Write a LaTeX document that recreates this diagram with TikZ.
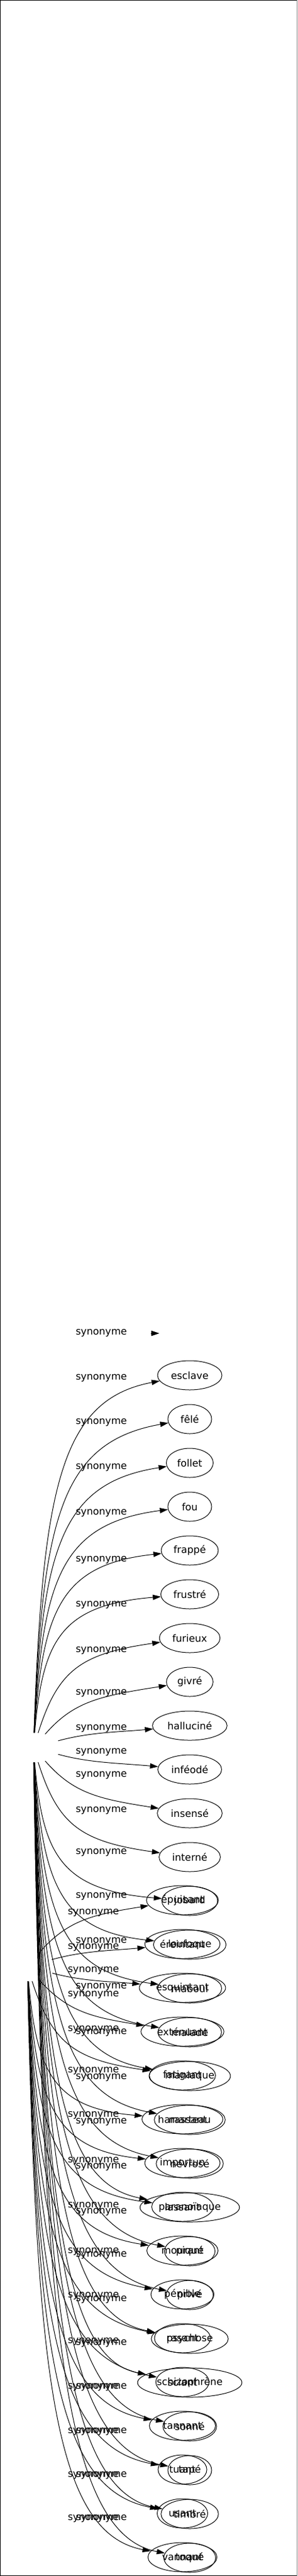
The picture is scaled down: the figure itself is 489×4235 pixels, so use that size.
\documentclass[tikz,border=0pt]{standalone}
\usepackage{fontspec}
\setmainfont{DejaVu Sans}
\usetikzlibrary{arrows.meta,shapes.geometric}

\tikzset{
	syn/.style={ellipse,draw,minimum width=54pt,minimum height=36pt,inner xsep=5pt,inner ysep=3pt},
	hub/.style={ellipse,minimum width=67.5pt,minimum height=36pt},
	lab/.style={anchor=west,inner sep=0pt}
}

\begin{document}
\begin{tikzpicture}[x=0.75pt,y=-0.75pt,>={Triangle[length=10pt,width=6.5pt]},line width=0.75pt,font=\fontsize{12.2}{14}\selectfont]
	\useasboundingbox (0,0) rectangle (489,4235);
	\draw (488.5,0.5) -- (0.5,0.5) -- (0.5,4234.5) -- (488.5,4234.5);
	\draw[gray] (488.5,0.5) -- (488.5,4234.5);

	% first graph
	\node[hub] (h_a) at (55,2873) {};
	\coordinate (a_0) at (262,2192);
	\coordinate (a_0t) at (248,2192);
	\node[lab] (la_0) at (124,2192) {synonyme};
	\draw[->] (a_0t) -- (a_0);
	\foreach \i/\w/\ly in {1/esclave/2266,2/fêlé/2339,3/follet/2413,4/fou/2488,5/frappé/2565,6/frustré/2639,7/furieux/2714,8/givré/2784,9/halluciné/2842,10/inféodé/2881,11/insensé/2919,12/interné/2977,13/jobard/3046,14/loufoque/3118,15/maboul/3192,16/malade/3267,17/maniaque/3342,18/marteau/3416,19/névrosé/3489,20/paranoïaque/3563,21/piqué/3637,22/privé/3708,23/psychose/3781,24/schizophrène/3853,25/sonné/3925,26/tapé/3998,27/timbré/4070,28/toqué/4141}{
		\pgfmathsetmacro\ty{2189+72*\i}
		\pgfmathsetmacro\D{2873-\ty}
		\pgfmathsetmacro\f{min(1,abs(\D)/250)}
		\pgfmathsetmacro\pax{55+15+(1-\f)*90}
		\pgfmathsetmacro\pay{2873-0.7*\D}
		\pgfmathsetmacro\pbx{55+45+(1-\f)*110}
		\pgfmathsetmacro\pby{\ty+(1-\f)*0.33*\D+\f*sign(\D)*min(0.07*abs(\D),40)}
		\node[syn] (a_\i) at (312,\ty) {\w};
		\node[lab] (la_\i) at (124,\ly) {synonyme};
		\draw[->] (h_a) .. controls (\pax,\pay) and (\pbx,\pby) .. (a_\i);
	}

	% second graph
	\node[hub] (h_b) at (45,3233) {};
	\foreach \j/\w/\ly in {0/épuisant/3145,1/éreintant/3202,2/esquintant/3240,3/exténuant/3280,4/fatigant/3337,5/harassant/3405,6/importun/3478,7/lassant/3553,8/mourant/3627,9/pénible/3702,10/rasant/3775,11/sciant/3850,12/tannant/3925,13/tuant/3998,14/usant/4070,15/vannant/4141}{
		\pgfmathsetmacro\ty{3124+72*\j}
		\pgfmathsetmacro\D{3233-\ty}
		\pgfmathsetmacro\f{min(1,abs(\D)/250)}
		\pgfmathsetmacro\pax{45+15+(1-\f)*90}
		\pgfmathsetmacro\pay{3233-0.7*\D}
		\pgfmathsetmacro\pbx{45+45+(1-\f)*110}
		\pgfmathsetmacro\pby{\ty+(1-\f)*0.33*\D+\f*sign(\D)*min(0.07*abs(\D),40)}
		\node[syn] (b_\j) at (300,\ty) {\w};
		\node[lab] (lb_\j) at (111,\ly) {synonyme};
		\draw[->] (h_b) .. controls (\pax,\pay) and (\pbx,\pby) .. (b_\j);
	}
\end{tikzpicture}
\end{document}
